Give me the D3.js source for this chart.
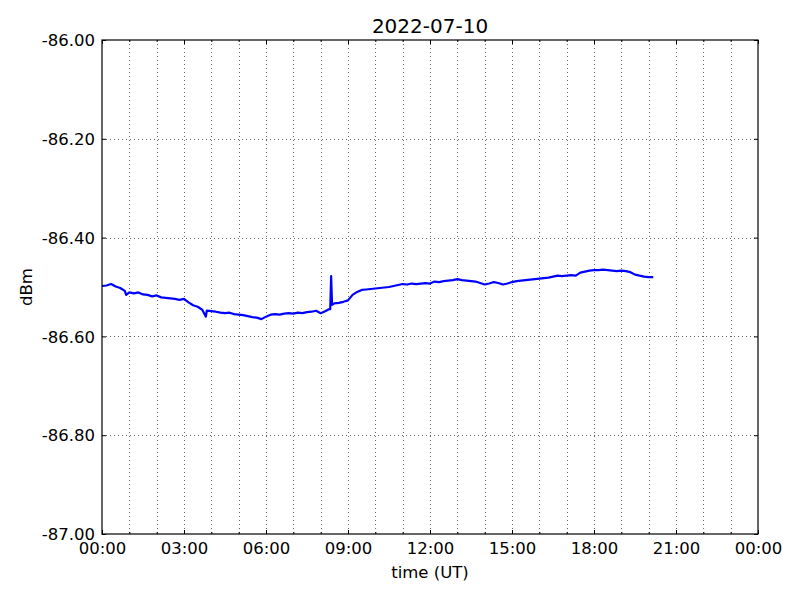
<!DOCTYPE html>
<html><head><meta charset="utf-8">
<script src="https://cdn.jsdelivr.net/npm/d3@7"></script>
<style>body{margin:0;background:#fff}svg{display:block}text{font-family:"DejaVu Sans",sans-serif;fill:#000}</style>
</head><body><svg id="c" width="800" height="600"></svg>
<script>
const title = "2022-07-10";
const xLabel = "time (UT)";
const yLabel = "dBm";
const xTickHours = [0,3,6,9,12,15,18,21,24];
const xTickLabels = ["00:00","03:00","06:00","09:00","12:00","15:00","18:00","21:00","00:00"];
const yTicks = [-87.0,-86.8,-86.6,-86.4,-86.2,-86.0];
// minutes after midnight UT
const timesMin = [0,10,20,30,40,50,53,60,70,80,90,100,110,120,130,140,150,160,170,180,190,200,210,220,228,230,240,250,260,270,280,290,300,310,320,330,340,350,360,370,380,390,400,410,420,430,440,450,460,470,480,490,498,501,503,505,510,520,530,540,550,560,570,580,590,600,610,620,630,640,650,660,670,680,690,700,710,720,730,740,750,760,770,780,790,800,810,820,830,840,850,860,870,880,890,900,910,920,930,940,950,960,970,980,990,1000,1010,1020,1030,1040,1050,1060,1070,1080,1090,1100,1110,1120,1130,1140,1150,1160,1170,1180,1190,1200,1210];
const dBm = [-86.498,-86.497,-86.494,-86.499,-86.502,-86.508,-86.516,-86.511,-86.513,-86.511,-86.515,-86.516,-86.519,-86.517,-86.521,-86.522,-86.523,-86.524,-86.526,-86.524,-86.531,-86.537,-86.540,-86.546,-86.560,-86.548,-86.549,-86.550,-86.552,-86.553,-86.552,-86.555,-86.556,-86.557,-86.559,-86.561,-86.562,-86.565,-86.560,-86.556,-86.555,-86.556,-86.554,-86.553,-86.554,-86.552,-86.553,-86.551,-86.550,-86.548,-86.553,-86.549,-86.545,-86.545,-86.478,-86.536,-86.533,-86.532,-86.530,-86.527,-86.516,-86.510,-86.506,-86.505,-86.504,-86.503,-86.502,-86.501,-86.500,-86.498,-86.496,-86.494,-86.495,-86.493,-86.494,-86.493,-86.492,-86.493,-86.489,-86.490,-86.488,-86.487,-86.486,-86.484,-86.486,-86.487,-86.488,-86.489,-86.492,-86.495,-86.493,-86.490,-86.492,-86.495,-86.493,-86.490,-86.488,-86.487,-86.486,-86.485,-86.484,-86.483,-86.482,-86.481,-86.479,-86.477,-86.478,-86.477,-86.476,-86.477,-86.471,-86.469,-86.467,-86.466,-86.466,-86.465,-86.466,-86.467,-86.468,-86.467,-86.468,-86.470,-86.475,-86.477,-86.479,-86.480,-86.480];

const svg = d3.select("#c");
const L=102,R=758,T=40,B=534;
const x = d3.scaleLinear().domain([0,24*60]).range([L,R]);
const y = d3.scaleLinear().domain([-87,-86]).range([B,T]);
const hours = d3.range(0,25);

// grid
const g = svg.append("g");
g.selectAll("line.vx").data(hours.slice(1,-1)).join("line")
  .attr("x1",d=>Math.round(x(d*60))+0.5).attr("x2",d=>Math.round(x(d*60))+0.5)
  .attr("y1",T).attr("y2",B).attr("stroke","#000").attr("stroke-width",0.6).attr("stroke-dasharray","1,3");
g.selectAll("line.hy").data(yTicks.slice(1,-1)).join("line")
  .attr("y1",d=>Math.round(y(d))+0.5).attr("y2",d=>Math.round(y(d))+0.5)
  .attr("x1",L).attr("x2",R).attr("stroke","#000").attr("stroke-width",0.6).attr("stroke-dasharray","1,3");

// data line
const line = d3.line().x((d,i)=>x(timesMin[i])).y(d=>y(d));
svg.append("path").datum(dBm).attr("d",line).attr("fill","none")
  .attr("stroke","#0000ff").attr("stroke-width",2.2).attr("stroke-linejoin","round");

// axes with inward ticks
const fmtY = d => d3.format(".2f")(d).replace("\u2212","-");
const xAxB = d3.axisBottom(x).tickValues(xTickHours.map(h=>h*60)).tickSize(-4).tickPadding(8)
  .tickFormat((d,i)=>xTickLabels[i]);
const xB = svg.append("g").attr("transform",`translate(0,${B})`).call(xAxB);
const xMinB = svg.append("g").attr("transform",`translate(0,${B})`).call(d3.axisBottom(x).tickValues(hours.map(h=>h*60)).tickSize(-2).tickFormat(""));
const xT = svg.append("g").attr("transform",`translate(0,${T})`).call(d3.axisTop(x).tickValues(xTickHours.map(h=>h*60)).tickSize(-4).tickFormat(""));
const xMinT = svg.append("g").attr("transform",`translate(0,${T})`).call(d3.axisTop(x).tickValues(hours.map(h=>h*60)).tickSize(-2).tickFormat(""));
const yL = svg.append("g").attr("transform",`translate(${L},0)`).call(d3.axisLeft(y).tickValues(yTicks).tickSize(-4).tickPadding(7).tickFormat(fmtY));
const yR = svg.append("g").attr("transform",`translate(${R},0)`).call(d3.axisRight(y).tickValues(yTicks).tickSize(-4).tickFormat(""));
[xB,xMinB,xT,xMinT,yL,yR].forEach(a=>{
  a.select(".domain").remove();
  a.selectAll("line").attr("stroke","#000").attr("stroke-width",1);
  a.selectAll("text").style("font-family","DejaVu Sans").style("font-size","16.5px").attr("fill","#000");
});
xB.selectAll("text").attr("dy","0.75em");
yL.selectAll("text").attr("dy","0.35em");

// frame
svg.append("rect").attr("x",L).attr("y",T).attr("width",R-L).attr("height",B-T)
  .attr("fill","none").attr("stroke","#000").attr("stroke-width",1.2);

svg.append("text").attr("x",(L+R)/2).attr("y",33).attr("text-anchor","middle")
  .style("font-size","20px").text(title);
svg.append("text").attr("x",(L+R)/2).attr("y",578).attr("text-anchor","middle")
  .style("font-size","16.5px").text(xLabel);
svg.append("text").attr("transform",`translate(32,${(T+B)/2}) rotate(-90)`).attr("text-anchor","middle")
  .style("font-size","16.5px").text(yLabel);
</script></body></html>
